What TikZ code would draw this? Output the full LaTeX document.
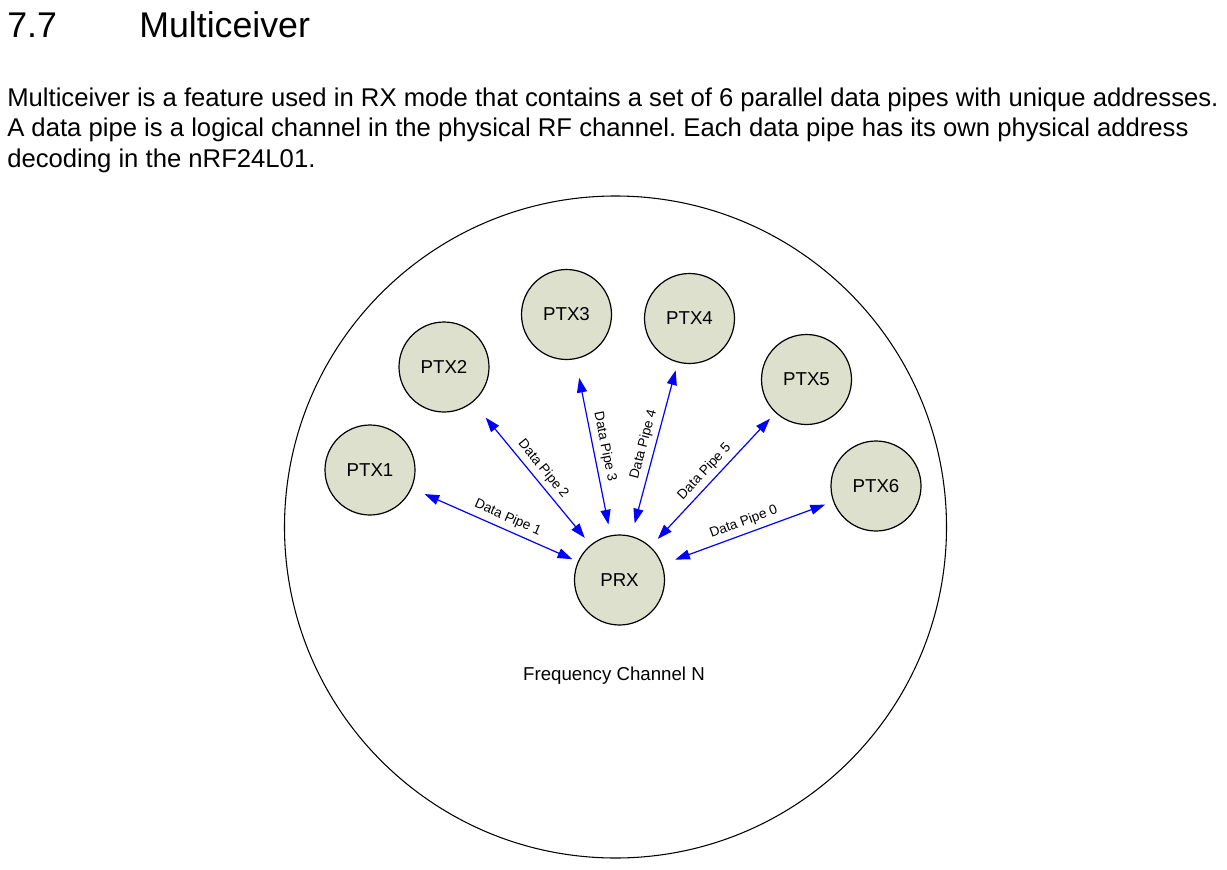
\documentclass[tikz,border=0pt]{standalone}
\usepackage{fontspec}
\setmainfont{Liberation Sans}
\usetikzlibrary{arrows.meta}
\definecolor{nodefill}{RGB}{221,224,204}
\frenchspacing
\begin{document}
\begin{tikzpicture}[x=0.75pt,y=-0.75pt,
  station/.style={circle,draw=black,line width=0.9pt,fill=nodefill,minimum size=67.5pt,inner sep=0pt,font=\fontsize{14}{16}\selectfont},
  pipe/.style={blue,line width=0.9pt,{Triangle[length=11pt,width=7.5pt]}-{Triangle[length=11pt,width=7.5pt]}},
  pipelabel/.style={sloped,above=1.5pt,inner sep=2pt,text=black,font=\fontsize{10.2}{12}\selectfont},
  heading/.style={anchor=base west,inner sep=0pt,font=\fontsize{26.8}{30}\selectfont},
  bodytext/.style={anchor=base west,inner sep=0pt,font=\fontsize{19.25}{23}\selectfont}
]
\useasboundingbox (0,0) rectangle (1227,870);
\fill[white] (0,0) rectangle (1227,870);

% heading and paragraph
\node[heading] (num) at (7,37.3) {7.7};
\node[heading] (title) at (139,37.3) {Multiceiver};
\node[bodytext] (l1) at (7,107) {Multiceiver is a feature used in RX mode that contains a set of 6 parallel data pipes with unique addresses.};
\node[bodytext] (l2) at (7,137) {A data pipe is a logical channel in the physical RF channel. Each data pipe has its own physical address};
\node[bodytext] (l3) at (7,167) {decoding in the nRF24L01.};

% frequency channel
\node[circle,draw=black,line width=0.8pt,minimum size=496.5pt,inner sep=0pt] (channel) at (615.5,527) {};
\node[anchor=base,inner sep=0pt,font=\fontsize{14}{16}\selectfont] (freq) at (614,680) {Frequency Channel N};

% stations
\node[station] (prx) at (619.5,580) {PRX};
\node[station] (ptx1) at (370,470) {PTX1};
\node[station] (ptx2) at (444,367) {PTX2};
\node[station] (ptx3) at (566.5,314.5) {PTX3};
\node[station] (ptx4) at (689.5,318.5) {PTX4};
\node[station] (ptx5) at (806.5,379.5) {PTX5};
\node[station] (ptx6) at (876,486) {PTX6};

% data pipes
\draw[pipe,shorten <=10.5pt,shorten >=4.5pt] (ptx1) -- node[pipelabel,pos=0.55] {Data Pipe 1} (prx);
\draw[pipe,shorten <=15pt,shorten >=6.75pt] (ptx2) -- node[pipelabel,pos=0.52] {Data Pipe 2} (prx);
\draw[pipe,shorten <=14.25pt,shorten >=8.25pt] (ptx3) -- node[pipelabel,pos=0.51] {Data Pipe 3} (prx);
\draw[pipe,shorten <=9.75pt,shorten >=6pt] (prx) -- node[pipelabel,pos=0.51] {Data Pipe 4} (ptx4);
\draw[pipe,shorten <=7.9pt,shorten >=6pt] (prx) -- node[pipelabel,pos=0.5] {Data Pipe 5} (ptx5);
\draw[pipe,shorten <=10.3pt,shorten >=6.5pt] (prx) -- node[pipelabel,pos=0.5] {Data Pipe 0} (ptx6);
\end{tikzpicture}
\end{document}
